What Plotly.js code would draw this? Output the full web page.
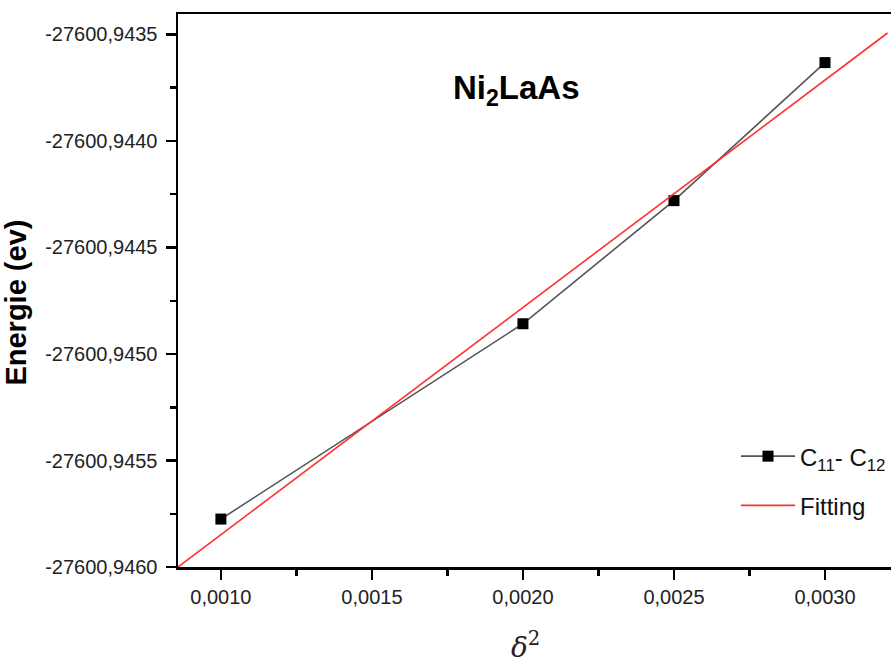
<!DOCTYPE html>
<html>
<head>
<meta charset="utf-8">
<script src="https://cdn.plot.ly/plotly-3.0.1.min.js"></script>
<style>html,body{margin:0;padding:0;background:#fff;}#chart{width:891px;height:664px;}</style>
</head>
<body>
<div id="chart"></div>
<script>
// Data
const delta2 = [0.0010, 0.0020, 0.0025, 0.0030];
const energy = [-27600.945775, -27600.944858, -27600.944280, -27600.943632];
const fitX = [0.000858, 0.003207];
const fitY = [-27600.94600, -27600.943493];
const seriesName = 'C<sub>11</sub>- C<sub>12</sub>';
const fitName = 'Fitting';
const compound = 'Ni<sub>2</sub>LaAs';
const yTickVals = [-27600.9460, -27600.9455, -27600.9450, -27600.9445, -27600.9440, -27600.9435];
const yTickText = ['-27600,9460', '-27600,9455', '-27600,9450', '-27600,9445', '-27600,9440', '-27600,9435'];

const traces = [
  {
    x: delta2, y: energy, type: 'scatter', mode: 'lines+markers', name: seriesName,
    line: {color: '#555555', width: 1.6},
    marker: {symbol: 'square', size: 11, color: '#000000'},
    legendgroup: 'a'
  },
  {
    x: fitX, y: fitY, type: 'scatter', mode: 'lines', name: fitName,
    line: {color: '#ff3030', width: 1.6},
    legendgroup: 'b'
  }
];

const axisFont = {family: 'Liberation Sans, Arial, sans-serif', size: 20, color: '#222222'};

const layout = {
  width: 891, height: 664,
  margin: {l: 178, r: 0, t: 14, b: 97},
  paper_bgcolor: '#ffffff', plot_bgcolor: '#ffffff',
  separators: ', ',
  showlegend: true,
  legend: {
    x: 1, y: 0.2404, xanchor: 'right', yanchor: 'top',
    itemwidth: 54,
    font: {family: 'Liberation Sans, Arial, sans-serif', size: 24, color: '#111111'},
    bgcolor: 'rgba(0,0,0,0)', traceorder: 'grouped', tracegroupgap: 15
  },
  xaxis: {
    range: [0.000858, 0.0032185],
    tickmode: 'linear', tick0: 0.0010, dtick: 0.0005, tickformat: '.4f',
    ticks: 'outside', ticklen: 10, tickwidth: 2.5, tickcolor: '#000',
    minor: {dtick: 0.00025, ticks: 'outside', ticklen: 6, tickwidth: 2.5, tickcolor: '#000'},
    showline: true, linecolor: '#000', linewidth: 2.5, mirror: true,
    showgrid: false, zeroline: false,
    tickfont: axisFont,
    title: {text: '<i>δ</i><sup>2</sup>&nbsp;&nbsp;', font: {family: 'DejaVu Serif, serif', size: 28, color: '#222'}, standoff: 38}
  },
  yaxis: {
    range: [-27600.9460, -27600.9434038],
    tickmode: 'array', tickvals: yTickVals, ticktext: yTickText,
    ticks: 'outside', ticklen: 10, tickwidth: 2.5, tickcolor: '#000',
    ticklabelstandoff: 4,
    minor: {tickmode: 'linear', tick0: -27600.9460, dtick: 0.00025, ticks: 'outside', ticklen: 6, tickwidth: 2.5, tickcolor: '#000'},
    showline: true, linecolor: '#000', linewidth: 2.5, mirror: false,
    showgrid: false, zeroline: false,
    tickfont: axisFont,
    title: {text: '<b>Energie (ev)</b>&nbsp;&nbsp;&nbsp;', font: {family: 'Liberation Sans, Arial, sans-serif', size: 29, color: '#000'}, standoff: 12}
  },
  annotations: [
    {text: '<b>' + compound + '</b>', xref: 'paper', yref: 'paper',
     x: (516 - 178) / 713, y: (567 - 90) / 553, xanchor: 'center', yanchor: 'middle',
     showarrow: false, font: {family: 'Liberation Sans, Arial, sans-serif', size: 33, color: '#000'}}
  ]
};

Plotly.newPlot('chart', traces, layout, {displayModeBar: false, staticPlot: true});
</script>
</body>
</html>
